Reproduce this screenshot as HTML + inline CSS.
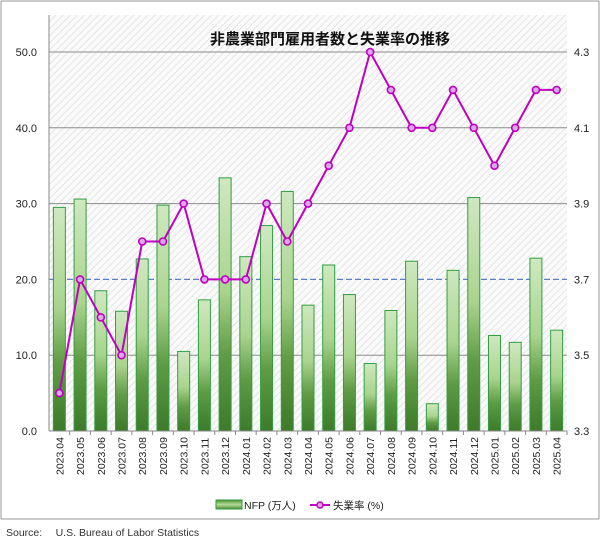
<!DOCTYPE html>
<html><head><meta charset="utf-8"><style>
body{margin:0;background:#fff;width:600px;height:541px;overflow:hidden;font-family:"Liberation Sans","Noto Sans CJK JP",sans-serif}
</style></head><body>
<svg id="chart" width="600" height="541" xmlns="http://www.w3.org/2000/svg">
<defs>
<pattern id="hatch" width="5" height="5" patternUnits="userSpaceOnUse" patternTransform="rotate(45)">
<rect width="5" height="5" fill="#fafafa"/><line x1="0" y1="0" x2="0" y2="5" stroke="#d8d8d8" stroke-width="1.2"/>
</pattern>
<linearGradient id="barg" x1="0" y1="0" x2="0" y2="1">
<stop offset="0" stop-color="#cfe8c0"/><stop offset="0.45" stop-color="#a9d48e"/><stop offset="0.7" stop-color="#5f9c45"/><stop offset="1" stop-color="#3d7a2a"/>
</linearGradient>
<linearGradient id="legg" x1="0" y1="0" x2="0" y2="1">
<stop offset="0" stop-color="#4f8d36"/><stop offset="0.5" stop-color="#b5dc9a"/><stop offset="1" stop-color="#4f8d36"/>
</linearGradient>
</defs>
<rect x="1" y="1" width="598" height="518" fill="#fff" stroke="#9a9a9a"/>
<rect x="49" y="15" width="518" height="416" fill="url(#hatch)"/>
<g id="grid"></g>
<g id="bars"></g>
<g id="line"></g>
<g id="axes"></g>
<text x="330" y="44" text-anchor="middle" font-size="15" font-weight="bold" fill="#111" font-family="'Liberation Sans','Noto Sans CJK JP',sans-serif">非農業部門雇用者数と失業率の推移</text>
<g>
<rect x="216" y="500" width="26" height="9" fill="url(#legg)" stroke="#2e9a3a"/>
<text x="244" y="509" font-size="10.5" fill="#222">NFP (万人)</text>
<line x1="310" y1="505" x2="330" y2="505" stroke="#c000c0" stroke-width="2"/>
<circle cx="320" cy="505" r="3" fill="#dca8ec" stroke="#c000c0" stroke-width="1.5"/>
<text x="333" y="509" font-size="10.5" fill="#222">失業率 (%)</text>
</g>
<text x="6" y="536" font-size="10.5" fill="#333">Source:　 U.S. Bureau of Labor Statistics</text>
</svg>
<script>
const categories=["2023.04","2023.05","2023.06","2023.07","2023.08","2023.09","2023.10","2023.11","2023.12","2024.01","2024.02","2024.03","2024.04","2024.05","2024.06","2024.07","2024.08","2024.09","2024.10","2024.11","2024.12","2025.01","2025.02","2025.03","2025.04"];
const nfp=[29.5,30.6,18.5,15.8,22.7,29.8,10.5,17.3,33.4,23.0,27.1,31.6,16.6,21.9,18.0,8.9,15.9,22.4,3.6,21.2,30.8,12.6,11.7,22.8,13.3];
const rate=[3.4,3.7,3.6,3.5,3.8,3.8,3.9,3.7,3.7,3.7,3.9,3.8,3.9,4.0,4.1,4.3,4.2,4.1,4.1,4.2,4.1,4.0,4.1,4.2,4.2];
const leftTicks=["0.0","10.0","20.0","30.0","40.0","50.0"];
const rightTicks=["3.3","3.5","3.7","3.9","4.1","4.3"];
const NS="http://www.w3.org/2000/svg";
const X0=49,X1=567,Y0=431,Y50=52;
const yL=v=>Y0-(v/50)*(Y0-Y50);
const yR=v=>Y0-((v-3.3)/1.0)*(Y0-Y50);
const bw=(X1-X0)/categories.length;
const xc=i=>X0+bw*(i+0.5);
function mk(t,p,a){const e=document.createElementNS(NS,t);for(const k in a)e.setAttribute(k,a[k]);p.appendChild(e);return e;}
const grid=document.getElementById('grid'),bars=document.getElementById('bars'),line=document.getElementById('line'),axes=document.getElementById('axes');
leftTicks.forEach((t,i)=>{const v=parseFloat(t),y=yL(v);
 if(v>0&&v!==20){const g=mk('line',grid,{x1:X0,x2:X1,y1:y,y2:y,stroke:'#8c8c8c','stroke-width':1});
 
 }
 const tx=mk('text',axes,{x:37,y:y+4,'text-anchor':'end','font-size':11,fill:'#222'});tx.textContent=t;
 
 
});
rightTicks.forEach(t=>{const y=yR(parseFloat(t));
 const tx=mk('text',axes,{x:574,y:y+4,'font-size':11,fill:'#222'});tx.textContent=t;
 
 
});
const ref=mk('line',grid,{x1:X0,x2:X1,y1:yL(20),y2:yL(20),stroke:'#5b7fc8','stroke-width':1.3,'stroke-dasharray':'6,3'});


mk('line',axes,{x1:X0,x2:X0,y1:15,y2:Y0,stroke:'#888'});
mk('line',axes,{x1:X0,x2:X1,y1:Y0,y2:Y0,stroke:'#888'});
nfp.forEach((v,i)=>{const y=yL(v);
 const r=mk('rect',bars,{x:xc(i)-6,y:y,width:12,height:Y0-y,fill:'url(#barg)',stroke:'#2fa040','stroke-width':1});
 
 
 const tx=mk('text',axes,{transform:`translate(${xc(i)+4},${Y0+44}) rotate(-90)`,'font-size':10.5,fill:'#222'});tx.textContent=categories[i];
 
 
 mk('line',axes,{x1:X0+bw*(i+1),x2:X0+bw*(i+1),y1:Y0,y2:Y0+4,stroke:'#888'});
});
const pl=mk('polyline',line,{points:rate.map((v,i)=>xc(i)+','+yR(v)).join(' '),fill:'none',stroke:'#c000c0','stroke-width':2});


rate.forEach((v,i)=>{const c=mk('circle',line,{cx:xc(i),cy:yR(v),r:3.5,fill:'#dca8ec',stroke:'#c000c0','stroke-width':1.6});
 
 
});
</script>
</body></html>
